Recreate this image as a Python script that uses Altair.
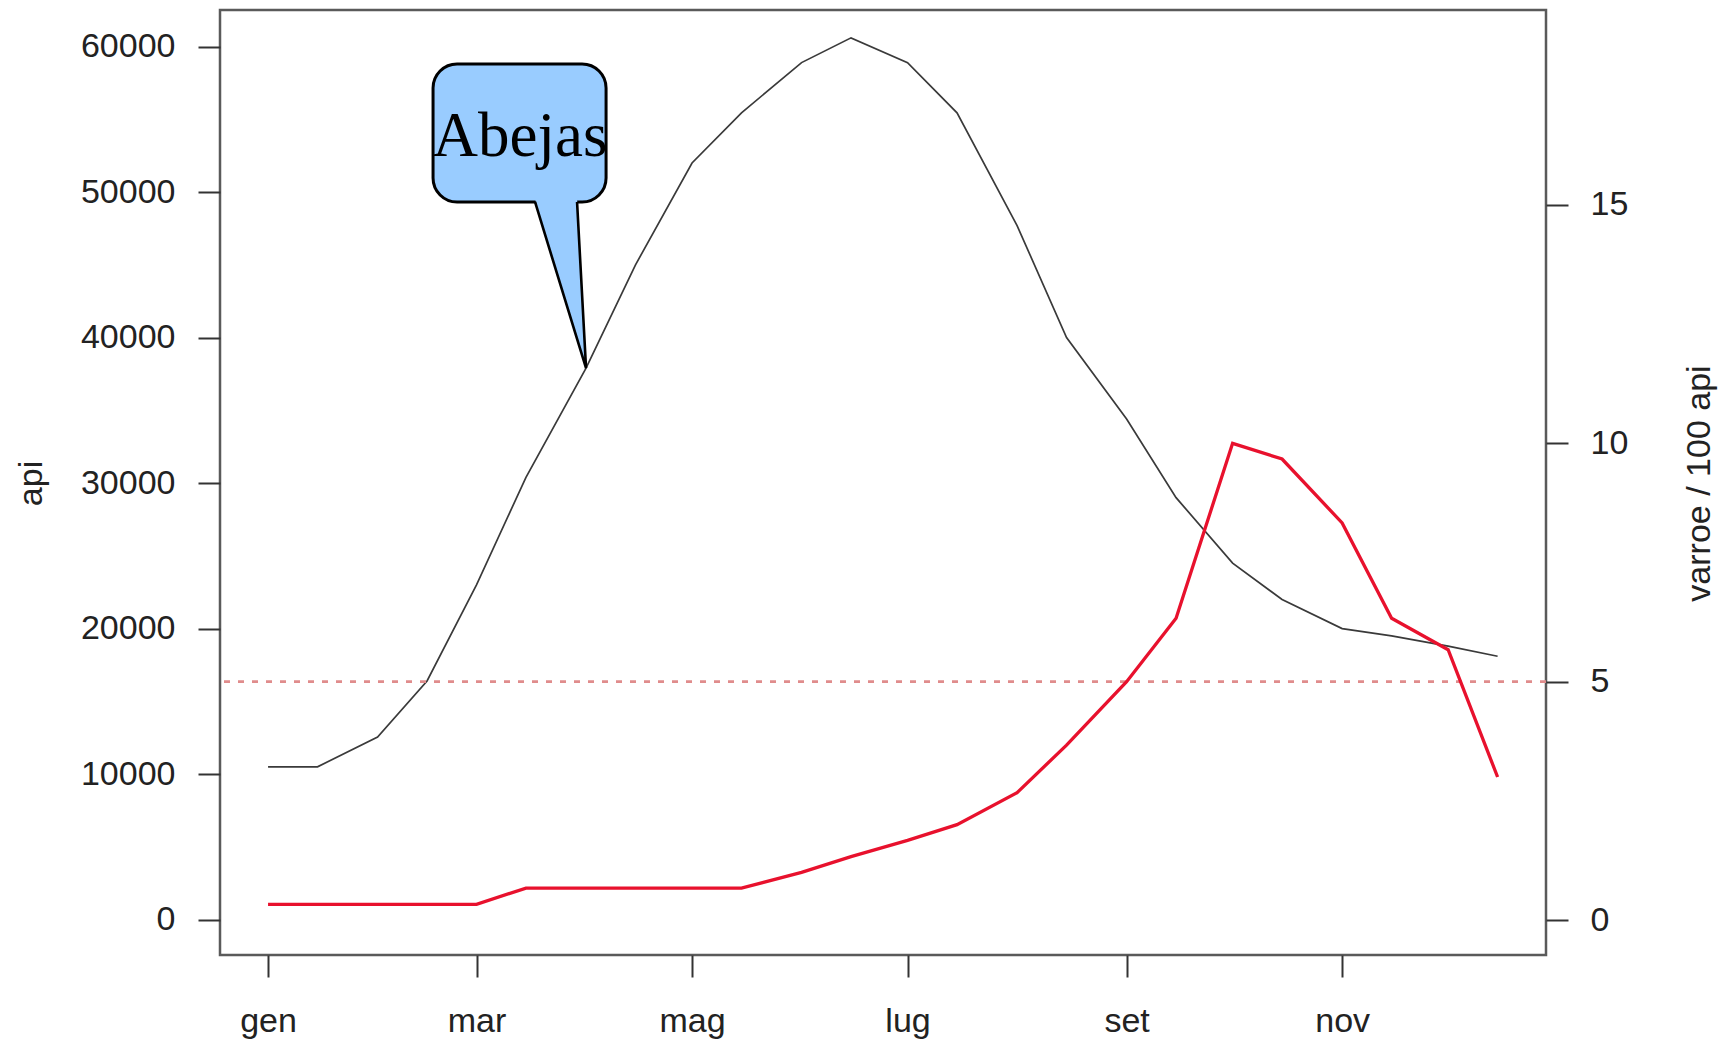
import altair as alt
import pandas as pd

# ---------------- data ----------------
dates = ["2011-01-01", "2011-01-15", "2011-02-01", "2011-02-15", "2011-03-01", "2011-03-15",
         "2011-04-01", "2011-04-15", "2011-05-01", "2011-05-15", "2011-06-01", "2011-06-15",
         "2011-07-01", "2011-07-15", "2011-08-01", "2011-08-15", "2011-09-01", "2011-09-15",
         "2011-10-01", "2011-10-15", "2011-11-01", "2011-11-15", "2011-12-01", "2011-12-15"]
api = [10500, 10500, 12550, 16400, 23000, 30400, 37900, 45000, 52000, 55450, 58900, 60600,
       58900, 55450, 47700, 40000, 34400, 29000, 24500, 22000, 20000, 19500, 18800, 18100]
varroe = [0.33, 0.33, 0.33, 0.33, 0.33, 0.67, 0.67, 0.67, 0.67, 0.67, 1.0, 1.33,
          1.67, 2.0, 2.67, 3.67, 5.0, 6.33, 10.0, 9.67, 8.33, 6.33, 5.67, 3.0]
threshold = [5]

month_ticks = ["2011-01-01", "2011-03-01", "2011-05-01", "2011-07-01", "2011-09-01", "2011-11-01"]
month_names = ["gen", "feb", "mar", "apr", "mag", "giu", "lug", "ago", "set", "ott", "nov", "dic"]
api_ticks = [0, 10000, 20000, 30000, 40000, 50000, 60000]
varroe_ticks = [0, 5, 10, 15]

# callout annotation (day offsets from 1 Jan, values on the api axis)
label_text = ["Abejas"]
label_day = [71.3]
label_api = [52490]
box_day = [46.7, 95.67]
box_api = [58805, 49320]
pointer_day = [75.57, 90.0, 87.46]      # base-left, tip (1 Apr point), base-right
pointer_api = [49320, 37900, 49320]

x_domain_days = [-13.6, 361.7]
api_domain = [-2433, 62515]
varroe_domain = [-0.734, 19.09]

# ---------------- helpers ----------------
BASE = pd.Timestamp("2011-01-01", tz="UTC")


def iso(ts):
    return ts.strftime("%Y-%m-%dT%H:%M:%SZ")


def day_iso(d):
    return iso(BASE + pd.to_timedelta(d, unit="D"))


def ms(ts):
    return int(ts.value // 10**6)


df = pd.DataFrame({
    "date": [d + "T00:00:00Z" for d in dates],
    "api": api,
    "varroe": varroe,
})

x_dom = [ms(BASE + pd.to_timedelta(d, unit="D")) for d in x_domain_days]
x_ticks = [ms(pd.Timestamp(d, tz="UTC")) for d in month_ticks]

FONT = "Liberation Sans"
TXT = "#222222"
FS = 34

xscale = alt.Scale(type="utc", domain=x_dom, nice=False)
yl_scale = alt.Scale(domain=api_domain, nice=False, zero=False)
yr_scale = alt.Scale(domain=varroe_domain, nice=False, zero=False)

labels_js = "[" + ",".join("'%s'" % m for m in month_names) + "]"

x_axis = alt.Axis(
    values=x_ticks, labelExpr=labels_js + "[utcmonth(datum.value)]",
    title=None, grid=False, domain=False, tickSize=22, tickWidth=2, tickColor="#333333",
    labelFont=FONT, labelFontSize=FS, labelColor=TXT, labelPadding=54,
    labelBaseline="alphabetic", labelFlush=False, labelOverlap=False,
)

yl_axis = alt.Axis(
    values=api_ticks, format="d", title="api", grid=False, domain=False,
    tickSize=22, tickWidth=2, tickColor="#333333",
    labelFont=FONT, labelFontSize=FS, labelColor=TXT, labelPadding=23,
    labelFlush=False, labelOverlap=False,
    titleFont=FONT, titleFontSize=FS, titleFontWeight="normal", titleColor=TXT,
    titleAngle=270, titleX=-179, titleY=473, titleBaseline="alphabetic", titleAlign="center",
)

yr_axis = alt.Axis(
    values=varroe_ticks, orient="right", title="varroe / 100 api", grid=False, domain=False,
    tickSize=22, tickWidth=2, tickColor="#333333",
    labelFont=FONT, labelFontSize=FS, labelColor=TXT, labelPadding=22,
    labelFlush=False, labelOverlap=False,
    titleFont=FONT, titleFontSize=FS, titleFontWeight="normal", titleColor=TXT,
    titleAngle=270, titleX=163, titleY=473, titleBaseline="alphabetic", titleAlign="center",
)


def X(field):
    return alt.X(field, scale=xscale, axis=x_axis, title=None)


def YL(field):
    return alt.Y(field, scale=yl_scale, axis=yl_axis, title="api")


def YR(field):
    return alt.Y(field, scale=yr_scale, axis=yr_axis, title="varroe / 100 api")


# ---------------- left (api) layers ----------------
api_line = alt.Chart(df).mark_line(color="#3a3a3a", strokeWidth=1.7).encode(
    x=X("date:T"),
    y=YL("api:Q"),
)

box_df = pd.DataFrame({
    "date": [day_iso(box_day[0])], "x2": [day_iso(box_day[1])],
    "api": [box_api[0]], "y2": [box_api[1]],
})
box = alt.Chart(box_df).mark_rect(
    fill="#99ccff", stroke="black", strokeWidth=3, cornerRadius=24
).encode(
    x=X("date:T"),
    x2="x2:T",
    y=YL("api:Q"),
    y2="y2:Q",
)

# pointer fill (triangle as an area)
a_d, t_d, b_d = pointer_day
a_v, t_v, b_v = pointer_api
frac = (b_d - a_d) / (t_d - a_d)
low_at_b = a_v + frac * (t_v - a_v)
tri_df = pd.DataFrame({
    "date": [day_iso(a_d), day_iso(b_d), day_iso(t_d)],
    "api": [a_v + 200, b_v + 200, t_v],
    "bottom": [a_v + 200, low_at_b, t_v],
})
tri_fill = alt.Chart(tri_df).mark_area(color="#99ccff", opacity=1).encode(
    x=X("date:T"),
    y=YL("api:Q"),
    y2="bottom:Q",
)

edge_df = pd.DataFrame({
    "date": [day_iso(d) for d in pointer_day],
    "api": pointer_api,
    "o": [0, 1, 2],
})
tri_edge = alt.Chart(edge_df).mark_line(color="black", strokeWidth=2.6).encode(
    x=X("date:T"),
    y=YL("api:Q"),
    order="o:O",
)

lab_df = pd.DataFrame({"date": [day_iso(label_day[0])], "api": label_api, "t": label_text})
label = alt.Chart(lab_df).mark_text(
    font="Liberation Serif", fontSize=63, color="black", baseline="alphabetic", align="center"
).encode(
    x=X("date:T"),
    y=YL("api:Q"),
    text="t:N",
)

left = alt.layer(api_line, box, tri_fill, tri_edge, label)

# ---------------- right (varroe) layers ----------------
rule = alt.Chart(pd.DataFrame({"varroe": threshold})).mark_rule(
    color="#e08c8c", strokeWidth=2.6, strokeDash=[6, 8]
).encode(
    y=YR("varroe:Q"),
)

varroe_line = alt.Chart(df).mark_line(color="#e8112d", strokeWidth=3.3).encode(
    x=X("date:T"),
    y=YR("varroe:Q"),
)

right = alt.layer(rule, varroe_line)

chart = alt.layer(left, right).resolve_scale(y="independent").properties(
    width=1326, height=945,
    autosize=alt.AutoSizeParams(type="none"),
    padding={"left": 212, "top": 2, "right": 172, "bottom": 86},
).configure_view(stroke="#5a5a5a", strokeWidth=2.5)

chart.save("out.html", embed_options={"renderer": "svg", "actions": False})
